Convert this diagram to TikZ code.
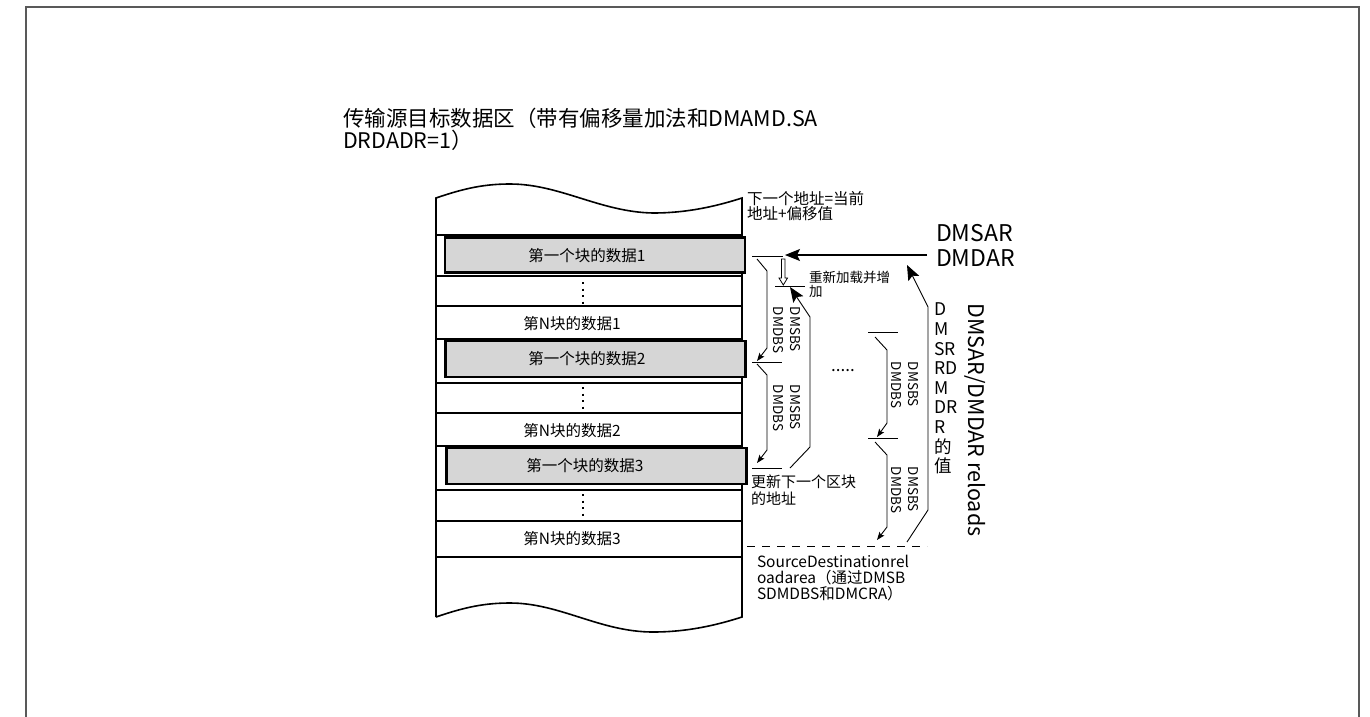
\documentclass[tikz,border=0pt]{standalone}
\usepackage{fontspec}
\setmainfont{Noto Sans CJK SC}
\usetikzlibrary{arrows.meta}
\begin{document}
\begin{tikzpicture}[x=1pt,y=-1pt,
  lbl/.style={inner sep=0pt, outer sep=0pt},
  blk/.style={draw=black, line width=2.6pt, fill=black!16, minimum width=300pt, inner sep=0pt},
  rowline/.style={line width=1.1pt},
  colline/.style={line width=1.6pt},
  brk/.style={line width=0.9pt, -{Stealth[length=8pt,width=6pt,inset=1.5pt]}},
  bigarr/.style={line width=1.1pt, -{Stealth[length=15pt,width=12pt,inset=3pt]}},
  tick/.style={line width=0.9pt},
  vdots/.style={line width=2pt, dash pattern=on 2pt off 4.5pt}
]
\useasboundingbox (0,0) rectangle (1370,716);
% outer frame
\draw[line width=2pt, black!65] (26,740) -- (26,7) -- (1359,7) -- (1359,740);

% title
\node[lbl, anchor=west, align=left, font=\fontsize{21.5}{22}\selectfont] (title) at (343,129)
  {传输源目标数据区（带有偏移量加法和DMAMD.SA\\DRDADR=1）};

% column rows
\foreach \yy in {235,276,306,339,383,413,446,490,521,557}
  \draw[rowline] (436,\yy) -- (742,\yy);
% column outline
\draw[colline] (436,617) -- (436,198)
  .. controls (465,188) and (485,184) .. (510,184)
  .. controls (560,184) and (600,212) .. (653,213)
  .. controls (690,213) and (720,205) .. (742,198) -- (742,617)
  .. controls (720,624) and (690,632) .. (653,632)
  .. controls (600,632) and (560,603) .. (510,603)
  .. controls (485,603) and (465,607) .. (436,617);

% blocks
\node[blk, minimum height=35pt] (b1) at (595,255) {};
\node[blk, minimum height=36pt] (b2) at (595.5,359) {};
\node[blk, minimum height=36pt] (b3) at (596.5,466) {};
\node[lbl, font=\fontsize{15.5}{16}\selectfont] (t1) at (587,256) {第一个块的数据1};
\node[lbl, font=\fontsize{15.5}{16}\selectfont] (t2) at (587,359) {第一个块的数据2};
\node[lbl, font=\fontsize{15.5}{16}\selectfont] (t3) at (585,466) {第一个块的数据3};
\node[lbl, font=\fontsize{15.5}{16}\selectfont] (n1) at (572,324) {第N块的数据1};
\node[lbl, font=\fontsize{15.5}{16}\selectfont] (n2) at (572,431) {第N块的数据2};
\node[lbl, font=\fontsize{15.5}{16}\selectfont] (n3) at (572,539) {第N块的数据3};
% vertical dots
\draw[vdots] (583,282) -- (583,304);
\draw[vdots] (583,387) -- (583,409);
\draw[vdots] (583,494) -- (583,516);

% right labels
\node[lbl, anchor=north west, align=left, font=\fontsize{15.5}{15.5}\selectfont] (next) at (747,191)
  {下一个地址=当前\\地址+偏移值};
\node[lbl, anchor=west, align=left, font=\fontsize{23}{25}\selectfont] (reg) at (936,245)
  {DMSAR\\DMDAR};
\node[lbl, anchor=north west, align=left, font=\fontsize{13.5}{14}\selectfont] (reload) at (809,271)
  {重新加载并增\\加};
\node[lbl, anchor=north west, align=left, font=\fontsize{15}{17}\selectfont] (upd) at (751,475)
  {更新下一个区块\\的地址};
\node[lbl, anchor=north west, align=left, font=\fontsize{15.5}{16}\selectfont] (src) at (757,555)
  {SourceDestinationrel\\oadarea（通过DMSB\\SDMDBS和DMCRA）};
\node[lbl, anchor=north west, align=left, font=\fontsize{17.5}{19.6}\selectfont] (stack) at (934,303)
  {D\\M\\SR\\RD\\M\\DR\\R\\的\\值};
\node[lbl, rotate=-90, font=\fontsize{21.5}{24}\selectfont] (reloads) at (975,420) {DMSAR/DMDAR reloads};
\node[lbl, font=\fontsize{17}{16}\selectfont] (ell) at (843,371) {.....};

% rotated size labels
\foreach \nm/\px/\py in {s1/787/330, s2/787/408, s3/905/385, s4/905/490}
  \node[lbl, rotate=-90, align=left, font=\fontsize{13.5}{16.5}\selectfont] (\nm) at (\px,\py) {DMSBS\\DMDBS};

% ticks
\draw[tick] (752,256) -- (783,256);
\draw[tick] (775,286) -- (805,286);
\draw[tick] (752,362) -- (782,362);
\draw[tick] (752,468) -- (782,468);
\draw[tick] (868,332) -- (898,332);
\draw[tick] (868,438) -- (898,438);
\draw[line width=0.9pt, dash pattern=on 8pt off 7pt] (747,546) -- (927,546);

% coordinates
\coordinate (regin) at (927,255);
\coordinate (regtip) at (785,255);
\coordinate (a1s) at (757,259); \coordinate (a1t) at (757,361);
\coordinate (a2s) at (757,364); \coordinate (a2t) at (757,463);
\coordinate (ups) at (790,468); \coordinate (upt) at (790,287);
\coordinate (a3s) at (875,337); \coordinate (a3t) at (877,437);
\coordinate (a4s) at (875,442); \coordinate (a4t) at (877,540);
\coordinate (bgs) at (907,542); \coordinate (bgt) at (907,265);

% arrows
\draw[bigarr] (regin) -- (regtip);
\draw[brk] (a1s) -- (767,271) -- (767,348) -- (a1t);
\draw[brk] (a2s) -- (767,375) -- (767,450) -- (a2t);
\draw[bigarr, line width=0.9pt] (ups) -- (810,447) -- (810,317) -- (upt);
\draw[brk] (a3s) -- (887,350) -- (887,423) -- (a3t);
\draw[brk] (a4s) -- (887,455) -- (887,527) -- (a4t);
\draw[bigarr, line width=0.9pt] (bgs) -- (928,510) -- (928,307) -- (bgt);

% hollow down arrow
\draw[line width=0.8pt, fill=white] (781.5,259) -- (785,259) -- (785,278) -- (787.5,278)
  -- (783.3,285) -- (779,278) -- (781.5,278) -- cycle;
\end{tikzpicture}
\end{document}
